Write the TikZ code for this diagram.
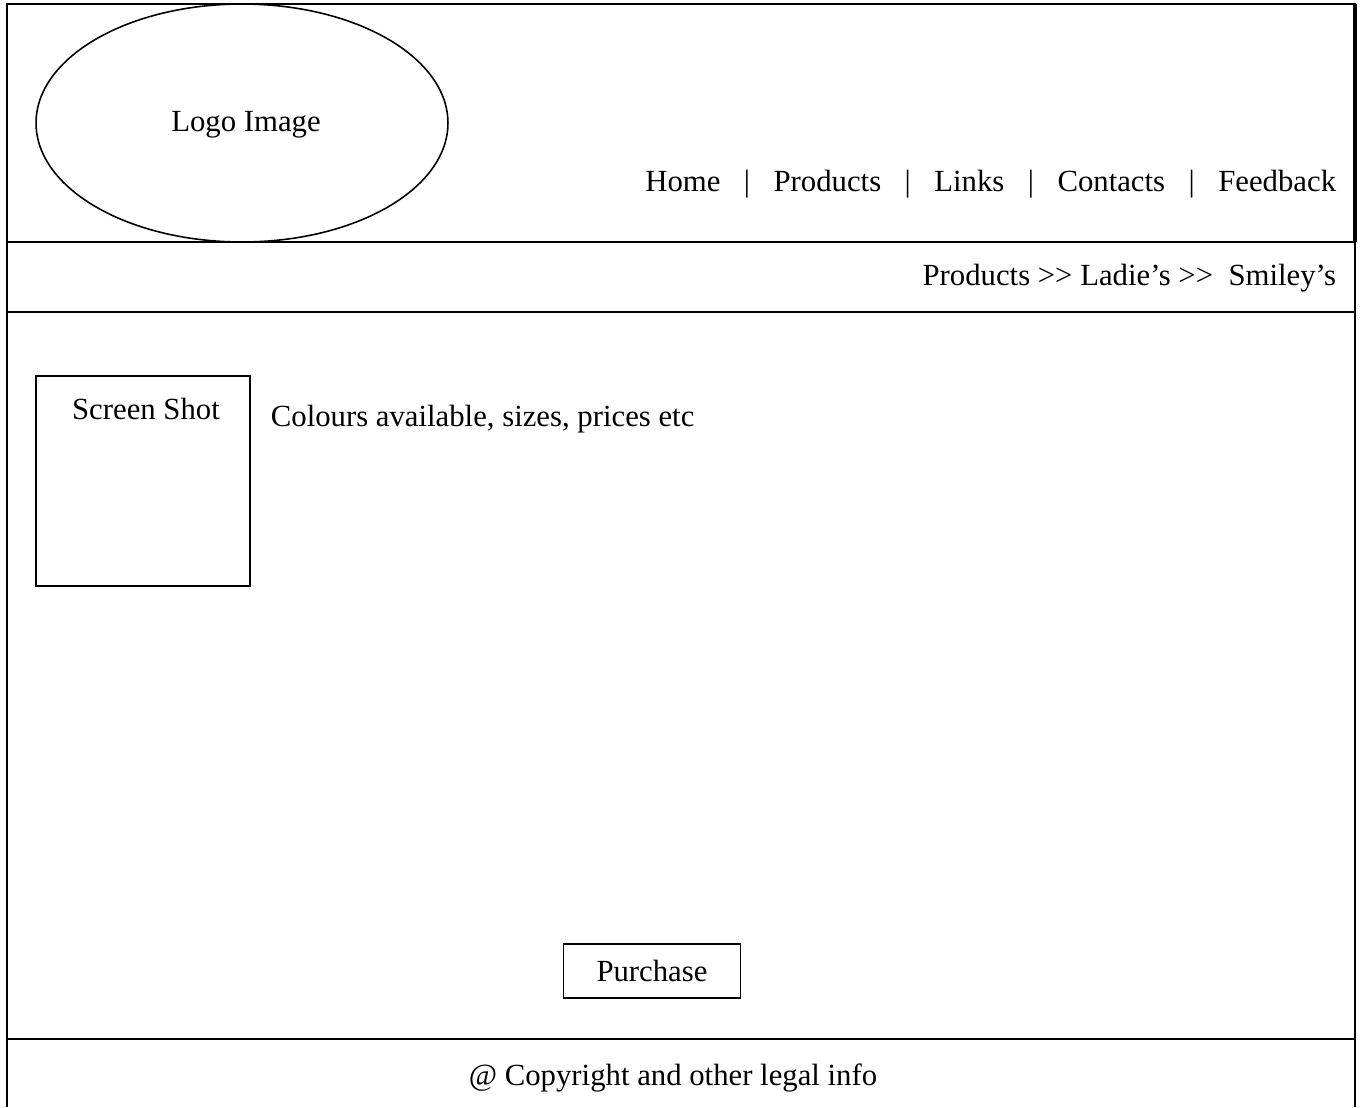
\documentclass[tikz,border=0pt]{standalone}
\usepackage{fontspec}
\setmainfont{Liberation Serif}
\usetikzlibrary{shapes.geometric, positioning}

\tikzset{
    txt/.style={font=\fontsize{17.5}{20}\selectfont, inner sep=0pt},
    box/.style={draw, line width=0.9pt, inner sep=0pt},
}

\begin{document}
\begin{tikzpicture}[x=0.02cm, y=-0.02cm, line width=1pt]
    \useasboundingbox (0,0) rectangle (1361,1107);
    % page frame
    \draw (7,1107) -- (7,4) -- (1355,4) -- (1355,1107);
    \draw[line width=1.8pt] (1355,4) -- (1355,242);
    \foreach \y in {242,312,1039} {
        \draw (7,\y) -- (1355,\y);
    }
    % header
    \node[box, ellipse, minimum width=8.24cm, minimum height=4.76cm] (logo) at (242,123) {};
    \node[txt, anchor=base] (logotxt) at (246,131) {Logo Image};
    \node[txt, anchor=base east] (nav) at (1337,191)
        {Home\hspace{0.47cm}|\hspace{0.47cm}Products\hspace{0.47cm}|\hspace{0.47cm}Links\hspace{0.47cm}|\hspace{0.47cm}Contacts\hspace{0.47cm}|\hspace{0.47cm}Feedback};
    % breadcrumb
    \node[txt, anchor=base east] (crumb) at (1337,285) {Products {>}{>} Ladie’s {>}{>}\ \ Smiley’s};
    % content
    \draw[line width=0.9pt] (36,376) rectangle (250,586);
    \node[txt, anchor=base] (shot) at (146,419) {Screen Shot};
    \node[txt, anchor=base west] (info) at (270,426) {Colours available, sizes, prices etc};
    \node[txt, box, minimum width=3.54cm, minimum height=1.08cm] (buy) at (652,971) {Purchase};
    % footer
    \node[txt, anchor=base] (legal) at (673,1085) {@ Copyright and other legal info};
\end{tikzpicture}
\end{document}
